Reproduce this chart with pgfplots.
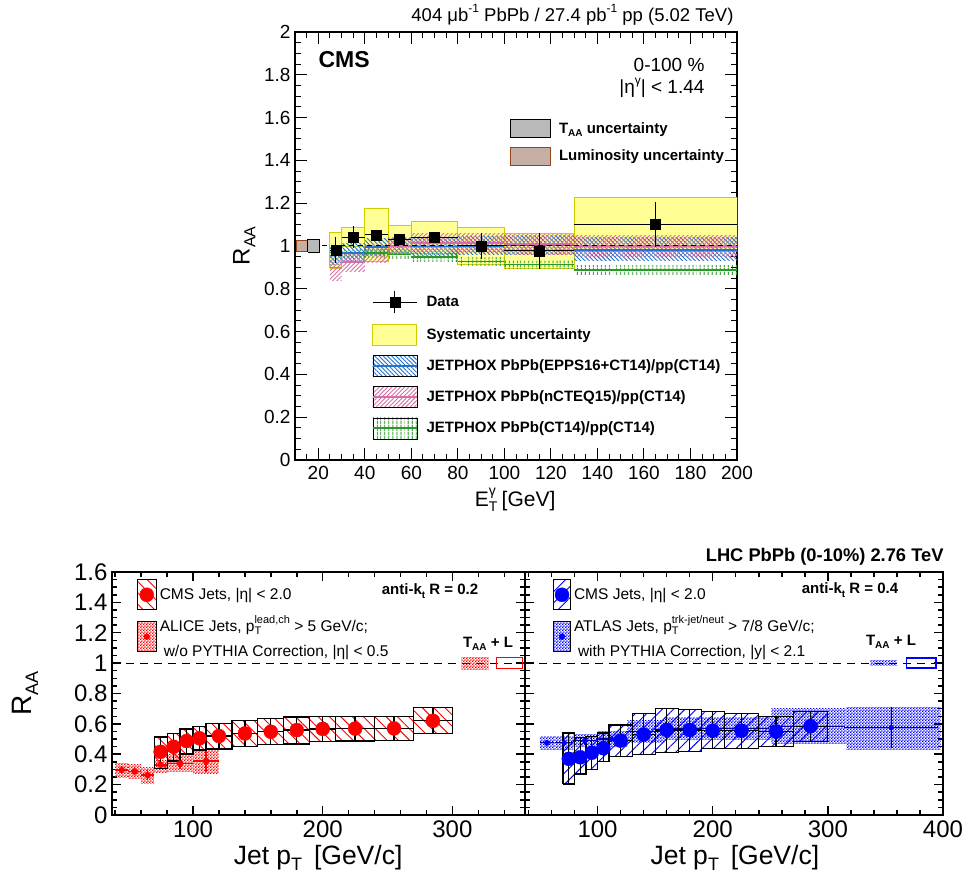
\documentclass[border=0pt]{standalone}
\usepackage{pgfplots}
\pgfplotsset{compat=1.18}
\usepackage{fontspec}
\setmainfont{Liberation Sans}
\usetikzlibrary{patterns,patterns.meta}

\definecolor{sysfill}{RGB}{255,255,150}
\definecolor{sysdraw}{RGB}{205,205,0}
\definecolor{eppsblue}{RGB}{35,115,205}
\definecolor{ncteqpink}{RGB}{215,110,165}
\definecolor{ctgreen}{RGB}{45,150,45}
\definecolor{taagrey}{RGB}{185,185,185}
\definecolor{lumifill}{RGB}{198,176,166}
\definecolor{lumidraw}{RGB}{150,70,20}
\definecolor{cmsred}{RGB}{255,0,0}
\definecolor{cmsblue}{RGB}{0,0,255}

\pgfdeclarepattern{
  name=finecheck,
  type=uncolored,
  bottom left={\pgfpoint{0pt}{0pt}},
  top right={\pgfpoint{3.2pt}{3.2pt}},
  tile size={\pgfpoint{3.2pt}{3.2pt}},
  code={
    \pgfpathrectangle{\pgfpoint{0pt}{0pt}}{\pgfpoint{1.6pt}{1.6pt}}
    \pgfpathrectangle{\pgfpoint{1.6pt}{1.6pt}}{\pgfpoint{1.6pt}{1.6pt}}
    \pgfusepath{fill}
  }
}

\newcommand\fs[1]{\fontsize{#1}{#1}\selectfont}
\newcommand\sub[2]{\raisebox{-0.45ex}{\fs{#1}#2}}
\newcommand\sups[2]{\raisebox{0.95ex}{\fs{#1}#2}}
\newcommand\boxes[2]{%
  \foreach \xa/\xb/\ya/\yb in {#2}{%
    \edef\tmp{\noexpand\addplot[forget plot,\unexpanded{#1}] coordinates {(\xa,\ya) (\xb,\ya) (\xb,\yb) (\xa,\yb) (\xa,\ya)};}%
    \tmp
  }%
}

\pgfplotsset{
  rootaxis/.style={
    scale only axis, anchor=south west,
    tick align=inside,
    /pgf/number format/assume math mode=true,
  },
}

\begin{document}
\begin{tikzpicture}[x=1pt,y=1pt]
\fill[white] (0,0) rectangle (968,885);
\useasboundingbox (0,0) rectangle (968,885);

% ================= TOP PANEL =================
\begin{axis}[rootaxis, at={(295pt,425pt)}, width=442pt, height=428pt,
  xmin=10, xmax=200, ymin=0, ymax=2,
  xtick={20,40,60,80,100,120,140,160,180,200},
  minor xtick={10,15,...,200},
  ytick={0,0.2,0.4,0.6,0.8,1,1.2,1.4,1.6,1.8,2},
  minor ytick={0.05,0.1,...,2},
  axis line style={line width=1.3pt},
  every tick/.style={black, line width=1pt},
  major tick length=12pt, minor tick length=6pt,
  tick label style={font=\fs{19}},
  xticklabel style={yshift=-3pt},
  yticklabel style={xshift=-1pt},
  xlabel={E\rlap{\sub{14}{T}}\sups{14}{γ} [GeV]},
  xlabel style={font=\fs{21}, at={(axis description cs:0.498,-0.093)}, anchor=center},
  ylabel={R\sub{16}{AA}},
  ylabel style={font=\fs{24}, at={(axis description cs:-0.115,0.5)}, anchor=center},
  legend style={at={(0.174,0.395)}, anchor=north west, draw=none, fill=none,
    inner sep=0pt, outer sep=0pt, row sep=9.7pt, column sep=9pt,
    font=\bfseries\fs{15}, nodes={inner sep=0pt, outer sep=0pt}},
  legend cell align=left,
]
% systematic uncertainties
\boxes{draw=sysdraw, line width=1pt, fill=sysfill}{25/30/0.895/1.065, 30/40/0.996/1.088, 40/50/0.927/1.177, 50/60/0.963/1.097, 60/80/0.964/1.116, 80/100/0.912/1.088, 100/130/0.893/1.06, 130/200/0.972/1.228}
% EPPS16 band
\boxes{draw=none, pattern={Lines[angle=-45,distance=3pt,line width=0.9pt]}, pattern color=eppsblue}{25/30/0.915/0.995, 30/40/0.93/1.01, 40/50/0.955/1.035, 50/60/0.96/1.035, 60/80/0.955/1.04, 80/100/0.96/1.045, 100/130/0.96/1.05, 130/200/0.93/1.04}
% nCTEQ15 band
\boxes{draw=none, pattern={Lines[angle=45,distance=3pt,line width=0.9pt]}, pattern color=ncteqpink}{25/30/0.84/0.955, 30/40/0.88/0.965, 40/50/0.925/1.005, 50/60/0.965/1.04, 60/80/0.975/1.06, 80/100/0.97/1.06, 100/130/0.96/1.055, 130/200/0.95/1.05}
% CT14 band
\boxes{draw=none, pattern={Lines[angle=90,distance=4pt,line width=1pt]}, pattern color=ctgreen}{25/30/0.95/0.99, 30/40/0.945/0.985, 40/50/0.947/0.987, 50/60/0.94/0.98, 60/80/0.928/0.968, 80/100/0.907/0.947, 100/130/0.893/0.933, 130/200/0.867/0.907}
% central lines
\addplot[forget plot, jump mark left, eppsblue, line width=1.6pt] coordinates {(25,0.955) (30,0.97) (40,0.995) (50,0.997) (60,0.998) (80,1.0) (100,1.005) (130,0.98) (200,0.98)};
\addplot[forget plot, jump mark left, ncteqpink, line width=1.6pt] coordinates {(25,0.9) (30,0.925) (40,0.965) (50,1.0) (60,1.015) (80,1.015) (100,1.01) (130,1.0) (200,1.0)};
\addplot[forget plot, jump mark left, ctgreen, line width=1.6pt] coordinates {(25,0.97) (30,0.965) (40,0.967) (50,0.96) (60,0.948) (80,0.927) (100,0.913) (130,0.887) (200,0.887)};
% unity line
\addplot[forget plot, black, line width=1pt, dash pattern=on 5pt off 4pt] coordinates {(10,1) (200,1)};
% TAA and luminosity
\boxes{draw=lumidraw, line width=1.2pt, fill=lumifill}{10.6/15.5/0.975/1.025}
\boxes{draw=black, line width=1.2pt, fill=taagrey}{15.5/20.4/0.97/1.03}
% data
\addplot[forget plot, black, only marks, mark=square*, mark size=5pt,
  error bars/.cd, x dir=both, x explicit, y dir=both, y explicit, error mark=none,
  error bar style={line width=1pt, black}]
  table[x=x, y=y, x error=ex, y error=ey]{
x y ex ey
27.5 0.98 2.5 0.06
35 1.042 5 0.05
45 1.052 5 0.012
55 1.03 5 0.015
70 1.04 10 0.025
90 1.0 10 0.06
115 0.977 15 0.083
165 1.10 35 0.105
};
% legend
\addlegendimage{legend image code/.code={\draw[black,line width=1pt] (0pt,0pt)--(44pt,0pt); \draw[black,line width=1pt] (22pt,-11pt)--(22pt,11pt); \fill[black] (17pt,-5pt) rectangle (27pt,5pt);}}
\addlegendentry{Data}
\addlegendimage{legend image code/.code={\draw[sysdraw,line width=1pt,fill=sysfill] (0pt,-10.5pt) rectangle (44pt,10.5pt);}}
\addlegendentry{Systematic uncertainty}
\addlegendimage{legend image code/.code={\fill[pattern={Lines[angle=-45,distance=3pt,line width=0.9pt]},pattern color=eppsblue] (0pt,-10.5pt) rectangle (44pt,10.5pt); \draw[eppsblue,line width=1.6pt] (0pt,0pt)--(44pt,0pt);}}
\addlegendentry{JETPHOX PbPb(EPPS16+CT14)/pp(CT14)}
\addlegendimage{legend image code/.code={\fill[pattern={Lines[angle=45,distance=3pt,line width=0.9pt]},pattern color=ncteqpink] (0pt,-10.5pt) rectangle (44pt,10.5pt); \draw[ncteqpink,line width=1.6pt] (0pt,0pt)--(44pt,0pt);}}
\addlegendentry{JETPHOX PbPb(nCTEQ15)/pp(CT14)}
\addlegendimage{legend image code/.code={\fill[pattern={Lines[angle=90,distance=4pt,line width=1pt]},pattern color=ctgreen] (0pt,-10.5pt) rectangle (44pt,10.5pt); \draw[ctgreen,line width=1.6pt] (0pt,0pt)--(44pt,0pt);}}
\addlegendentry{JETPHOX PbPb(CT14)/pp(CT14)}
\end{axis}

% second legend of the top panel
\begin{axis}[rootaxis, at={(295pt,425pt)}, width=442pt, height=428pt, hide axis,
  xmin=0, xmax=1, ymin=0, ymax=1,
  legend style={at={(0.486,0.797)}, anchor=north west, draw=none, fill=none,
    inner sep=0pt, outer sep=0pt, row sep=8.5pt, column sep=8pt,
    font=\bfseries\fs{15}, nodes={inner sep=0pt, outer sep=0pt}},
  legend cell align=left,
]
\addlegendimage{legend image code/.code={\draw[black,line width=1.2pt,fill=taagrey] (0pt,-9pt) rectangle (40pt,9pt);}}
\addlegendentry{T\sub{10}{AA} uncertainty}
\addlegendimage{legend image code/.code={\draw[lumidraw,line width=1.2pt,fill=lumifill] (0pt,-9pt) rectangle (40pt,9pt);}}
\addlegendentry{Luminosity uncertainty}
\end{axis}

\node[anchor=east, font=\fs{18.5}] at (737,870) {404 μb\sups{12}{-1} PbPb / 27.4 pb\sups{12}{-1} pp (5.02 TeV)};
\node[anchor=west, font=\bfseries\fs{23}] at (315,825) {CMS};
\node[anchor=east, font=\fs{19}] at (708,820) {0-100 \%};
\node[anchor=east, font=\fs{19}] at (708,797) {|η\sups{12}{γ}| < 1.44};

% ================= BOTTOM LEFT =================
\begin{axis}[rootaxis, at={(112pt,70pt)}, width=413pt, height=243pt,
  xmin=37.5, xmax=356, ymin=0, ymax=1.6,
  xtick={100,200,300}, minor xtick={40,60,...,340},
  ytick={0,0.2,0.4,0.6,0.8,1,1.2,1.4,1.6},
  minor ytick={0.05,0.1,...,1.6},
  axis line style={line width=2pt},
  every tick/.style={black, line width=1.5pt},
  major tick length=9pt, minor tick length=5pt,
  tick label style={font=\fs{24}},
  xticklabel style={yshift=-2pt},
  yticklabel style={xshift=-1pt},
  xlabel={Jet p\sub{18}{T}\, [GeV/c]},
  xlabel style={font=\fs{26.5}, at={(axis description cs:0.499,-0.177)}, anchor=center},
  ylabel={R\sub{18}{AA}},
  ylabel style={font=\fs{28}, at={(axis description cs:-0.21,0.5)}, anchor=center},
  legend style={at={(0.06,0.970)}, anchor=north west, draw=none, fill=none,
    inner sep=0pt, outer sep=0pt, row sep=5pt, column sep=3pt,
    font=\fs{15.5}, nodes={inner sep=0pt, outer sep=0pt, align=left}},
  legend cell align=left,
]
\addplot[forget plot, black, line width=1.2pt, dash pattern=on 8pt off 6pt] coordinates {(37.5,1) (356,1)};
% ALICE
\boxes{draw=none, pattern=finecheck, pattern color=cmsred}{40/50/0.25/0.342, 50/60/0.243/0.33, 60/70/0.21/0.316, 70/80/0.283/0.36, 80/100/0.285/0.40, 100/120/0.27/0.43}
\addplot[forget plot, cmsred, only marks, mark=*, mark size=3pt,
  error bars/.cd, x dir=both, x explicit, y dir=both, y explicit, error mark=none,
  error bar style={line width=1.3pt, cmsred}]
  table[x=x, y=y, x error=ex, y error=ey]{
x y ex ey
45 0.296 5 0.025
55 0.287 5 0.025
65 0.263 5 0.03
75 0.33 5 0.03
90 0.34 10 0.04
110 0.355 10 0.075
};
% CMS R=0.2
\boxes{draw=black, line width=1.2pt, pattern={Lines[angle=-45,distance=8pt,line width=0.9pt]}, pattern color=cmsred}{70/80/0.306/0.514, 80/90/0.355/0.539, 90/100/0.401/0.566, 100/110/0.428/0.581, 110/130/0.434/0.605, 130/150/0.449/0.62, 150/170/0.466/0.636, 170/190/0.467/0.645, 190/210/0.482/0.651, 210/240/0.487/0.651, 240/270/0.493/0.647, 270/300/0.537/0.706}
\addplot[forget plot, cmsred, only marks, mark=*, mark size=7pt,
  error bars/.cd, x dir=both, x explicit, y dir=both, y explicit, error mark=none,
  error bar style={line width=1.3pt, black}]
  table[x=x, y=y, x error=ex, y error plus=ep, y error minus=em]{
x y ex ep em
75 0.416 5 0.098 0.11
85 0.449 5 0.09 0.094
95 0.487 5 0.079 0.086
105 0.505 5 0.076 0.077
120 0.52 10 0.085 0.086
140 0.537 10 0.083 0.088
160 0.548 10 0.088 0.082
180 0.559 10 0.086 0.092
200 0.567 10 0.084 0.085
225 0.569 15 0.082 0.082
255 0.570 15 0.077 0.077
285 0.62 15 0.086 0.083
};
% TAA + L
\boxes{draw=none, pattern=finecheck, pattern color=cmsred}{307/328/0.96/1.04}
\boxes{draw=cmsred, line width=1.3pt, fill=none}{334/354/0.965/1.035}
% legend
\addlegendimage{legend image code/.code={\draw[black,line width=1pt,pattern={Lines[angle=-45,distance=8pt,line width=0.9pt]},pattern color=cmsred] (0pt,-15pt) rectangle (19pt,15pt); \fill[cmsred] (9.5pt,0pt) circle (7pt);}}
\addlegendentry{CMS Jets, |η| < 2.0}
\addlegendimage{legend image code/.code={\draw[black,line width=1pt,pattern=finecheck,pattern color=cmsred] (0pt,-15pt) rectangle (19pt,15pt); \fill[cmsred] (9.5pt,0pt) circle (3pt);}}
\addlegendentry{ALICE Jets, p\rlap{\sub{11}{T}}\sups{11}{lead,ch} > 5 GeV/c;\\[10pt]\hspace{4pt}w/o PYTHIA Correction, |η| < 0.5}
\end{axis}

% ================= BOTTOM RIGHT =================
\begin{axis}[rootaxis, at={(525pt,70pt)}, width=418pt, height=243pt,
  xmin=37, xmax=400, ymin=0, ymax=1.6,
  xtick={100,200,300,400}, minor xtick={40,60,...,400},
  ytick={0,0.2,0.4,0.6,0.8,1,1.2,1.4,1.6}, yticklabels={},
  minor ytick={0.05,0.1,...,1.6},
  axis line style={line width=2pt},
  every tick/.style={black, line width=1.5pt},
  major tick length=9pt, minor tick length=5pt,
  tick label style={font=\fs{24}},
  xticklabel style={yshift=-2pt},
  xlabel={Jet p\sub{18}{T}\, [GeV/c]},
  xlabel style={font=\fs{26.5}, at={(axis description cs:0.502,-0.177)}, anchor=center},
  legend style={at={(0.067,0.970)}, anchor=north west, draw=none, fill=none,
    inner sep=0pt, outer sep=0pt, row sep=5pt, column sep=3pt,
    font=\fs{15.5}, nodes={inner sep=0pt, outer sep=0pt, align=left}},
  legend cell align=left,
]
\addplot[forget plot, black, line width=1.2pt, dash pattern=on 8pt off 6pt] coordinates {(37,1) (400,1)};
% ATLAS
\boxes{draw=none, pattern=finecheck, pattern color=cmsblue}{50/63/0.43/0.52, 63/79/0.43/0.52, 79/100/0.45/0.53, 100/126/0.45/0.55, 126/158/0.48/0.62, 158/200/0.50/0.64, 200/251/0.50/0.64, 251/316/0.47/0.70, 316/398/0.43/0.71}
\addplot[forget plot, cmsblue, only marks, mark=*, mark size=2.5pt,
  error bars/.cd, x dir=both, x explicit, y dir=both, y explicit, error mark=none,
  error bar style={line width=1.2pt, cmsblue!60!black}]
  table[x=x, y=y, x error=ex, y error=ey]{
x y ex ey
56 0.475 6 0.02
71 0.475 8 0.02
89 0.49 10 0.02
112 0.50 13 0.02
141 0.55 16 0.02
178 0.57 21 0.02
224 0.57 25 0.03
282 0.585 33 0.04
355 0.575 41 0.135
};
% CMS R=0.4
\boxes{draw=black, line width=1.2pt, pattern={Lines[angle=45,distance=8pt,line width=0.9pt]}, pattern color=cmsblue}{70/80/0.204/0.54, 80/90/0.27/0.51, 90/100/0.30/0.515, 100/110/0.35/0.54, 110/130/0.383/0.592, 130/150/0.40/0.67, 150/170/0.41/0.70, 170/190/0.42/0.697, 190/210/0.44/0.68, 210/240/0.44/0.67, 240/270/0.45/0.65, 270/300/0.482/0.684}
\addplot[forget plot, cmsblue, only marks, mark=*, mark size=7pt,
  error bars/.cd, x dir=both, x explicit, y dir=both, y explicit, error mark=none,
  error bar style={line width=1.3pt, black}]
  table[x=x, y=y, x error=ex, y error plus=ep, y error minus=em]{
x y ex ep em
75 0.37 5 0.17 0.166
85 0.38 5 0.13 0.11
95 0.41 5 0.105 0.11
105 0.44 5 0.10 0.09
120 0.49 10 0.102 0.107
140 0.53 10 0.14 0.13
160 0.56 10 0.14 0.15
180 0.56 10 0.137 0.14
200 0.555 10 0.125 0.115
225 0.555 15 0.115 0.115
255 0.55 15 0.10 0.10
285 0.585 15 0.099 0.103
};
% TAA + L
\boxes{draw=none, pattern=finecheck, pattern color=cmsblue}{337/360/0.985/1.015}
\boxes{draw=cmsblue, line width=1.3pt, fill=none}{368/394/0.967/1.033}
% legend
\addlegendimage{legend image code/.code={\draw[black,line width=1pt,pattern={Lines[angle=45,distance=8pt,line width=0.9pt]},pattern color=cmsblue] (0pt,-15pt) rectangle (17pt,15pt); \fill[cmsblue] (8.5pt,0pt) circle (7pt);}}
\addlegendentry{CMS Jets, |η| < 2.0}
\addlegendimage{legend image code/.code={\draw[black,line width=1pt,pattern=finecheck,pattern color=cmsblue] (0pt,-15pt) rectangle (17pt,15pt); \fill[cmsblue] (8.5pt,0pt) circle (3pt);}}
\addlegendentry{ATLAS Jets, p\rlap{\sub{11}{T}}\sups{11}{trk-jet/neut} > 7/8 GeV/c;\\[10pt]\hspace{4pt}with PYTHIA Correction, |y| < 2.1}
\end{axis}

\node[font=\bfseries\fs{15}] at (430,294) {anti-k\sub{10}{t} R = 0.2};
\node[font=\bfseries\fs{15}] at (850,295) {anti-k\sub{10}{t} R = 0.4};
\node[font=\bfseries\fs{15}] at (488,241) {T\sub{10}{AA} + L};
\node[font=\bfseries\fs{15}] at (891,243) {T\sub{10}{AA} + L};
\node[anchor=east, font=\bfseries\fs{18.3}] at (947,328) {LHC PbPb (0-10\%) 2.76 TeV};
\end{tikzpicture}
\end{document}
